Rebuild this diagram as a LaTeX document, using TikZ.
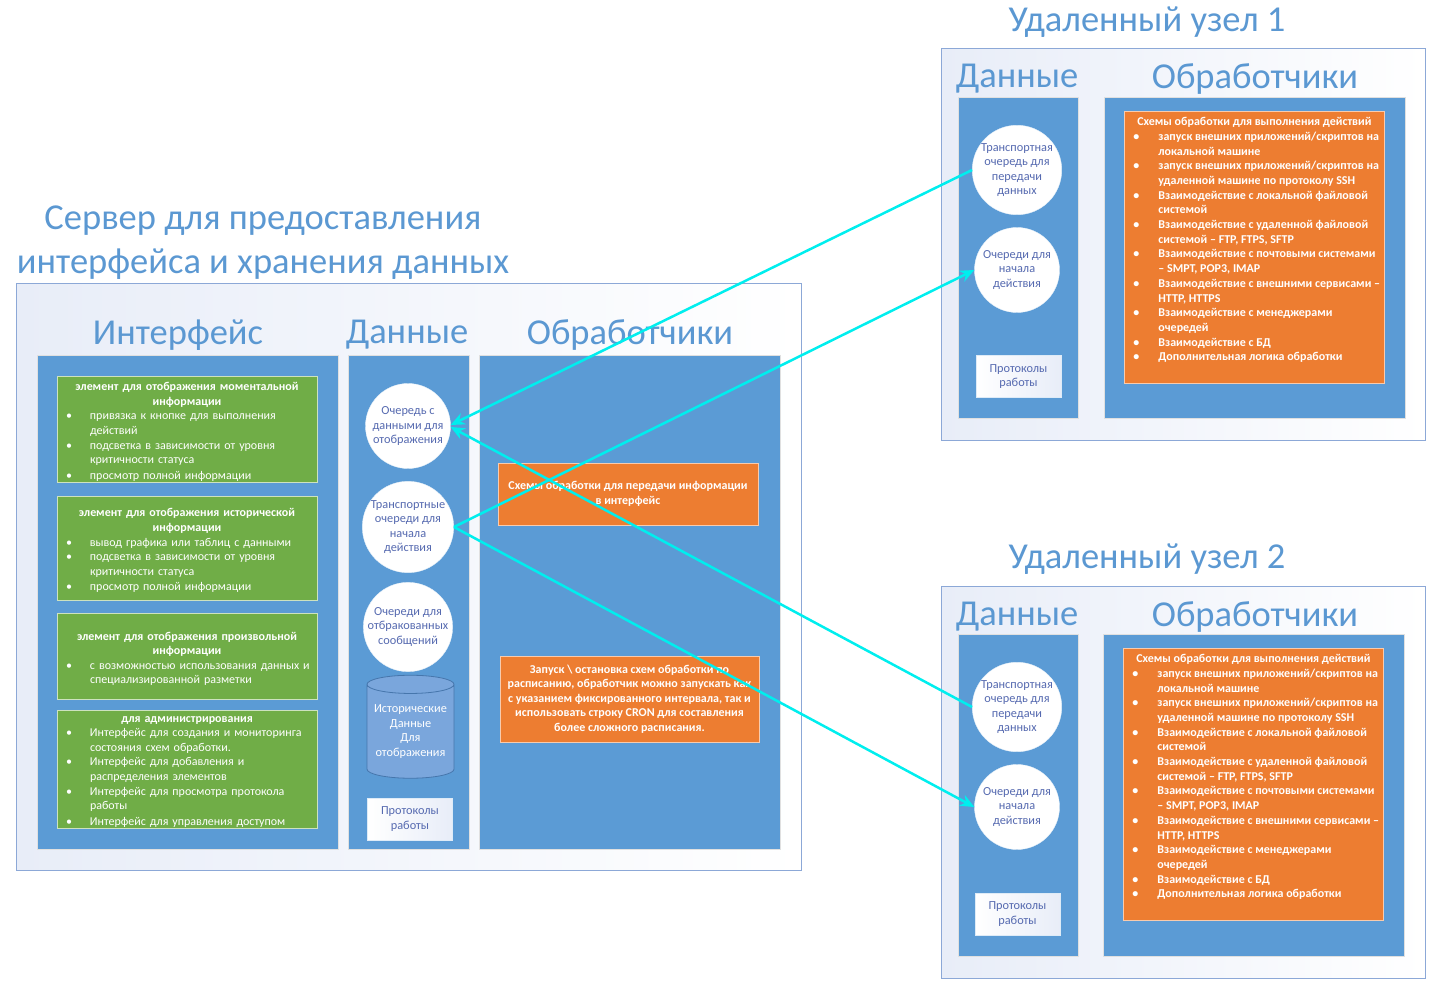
\documentclass[tikz,border=0pt]{standalone}
\usepackage{fontspec}
\setmainfont{Carlito}
\usepackage{tikz}
\usetikzlibrary{arrows.meta}
\usetikzlibrary{shapes.geometric}
\usetikzlibrary{positioning}
\definecolor{colblue}{RGB}{91,155,213}
\definecolor{ttlblue}{RGB}{91,152,210}
\definecolor{grn}{RGB}{112,173,71}
\definecolor{orng}{RGB}{237,125,49}
\definecolor{qtext}{RGB}{86,106,176}
\definecolor{frame}{RGB}{140,168,215}
\definecolor{bgl}{RGB}{232,237,248}
\definecolor{lnk}{RGB}{0,238,238}
\definecolor{cylfill}{RGB}{122,166,220}
\definecolor{cylline}{RGB}{70,118,172}
\newcommand\bul[1]{\par\hangindent=30pt\hangafter=1\noindent\makebox[30pt][l]{\hspace{5pt}\textbullet}#1}
\newcommand\gbul[1]{\par\lineskip=0pt\noindent\makebox[31pt][l]{\hspace{7pt}\textbullet}\parbox[t]{225pt}{\strut#1\strut}}
\newcommand\gend{\par\kern-8pt}
\newcommand\schemetext{\parbox[c][264pt][t]{252pt}{\vspace*{2pt}%
{\centering Схемы обработки для выполнения действий\par}
\bul{запуск внешних приложений/скриптов на\newline локальной машине}
\bul{запуск внешних приложений/скриптов на\newline удаленной машине по протоколу SSH}
\bul{Взаимодействие с локальной файловой\newline системой}
\bul{Взаимодействие с удаленной файловой\newline системой – FTP, FTPS, SFTP}
\bul{Взаимодействие с почтовыми системами\newline – SMPT, POP3, IMAP}
\bul{Взаимодействие с внешними сервисами –\newline HTTP, HTTPS}
\bul{Взаимодействие с менеджерами\newline очередей}
\bul{Взаимодействие с БД}
\bul{Дополнительная логика обработки}}}
\tikzstyle{title}=[text=ttlblue,align=center,font=\fontsize{36.5}{44}\selectfont]
\tikzstyle{heading}=[text=ttlblue,font=\fontsize{36.5}{42}\selectfont]
\tikzstyle{panel}=[draw=frame,line width=0.8pt,left color=bgl,right color=white,anchor=north west]
\tikzstyle{colbox}=[fill=colblue,draw=black!12,line width=0.8pt,anchor=north west]
\tikzstyle{gbox}=[fill=grn,draw=white!65!grn,line width=0.8pt,text=white,text width=256pt,inner xsep=2pt,inner ysep=0pt,minimum width=260pt,font=\fontsize{12}{14.6}\selectfont,execute at end node=\gend]
\tikzstyle{obox}=[fill=orng,draw=white!60!orng,line width=0.8pt,text=white,align=center,inner sep=3pt,font=\bfseries\fontsize{12}{14.6}\selectfont]
\tikzstyle{schbox}=[fill=orng,draw=white!60!orng,line width=0.8pt,text=white,inner sep=4pt,anchor=north west,font=\bfseries\fontsize{12}{14.7}\selectfont]
\tikzstyle{queue}=[circle,fill=white,draw=white!85!colblue,minimum size=85pt,inner sep=0pt,align=center,text=qtext,font=\fontsize{12.3}{14.6}\selectfont]
\tikzstyle{store}=[cylinder,shape border rotate=90,aspect=0.25,fill=cylfill,draw=cylline,line width=0.8pt,minimum width=87pt,minimum height=103pt,inner sep=0pt,align=center,text=white,font=\fontsize{12.3}{14.6}\selectfont]
\tikzstyle{logbox}=[left color=white,right color=bgl,draw=white!80!colblue,minimum width=85pt,minimum height=42pt,inner sep=0pt,align=center,text=qtext,font=\fontsize{12.3}{14.6}\selectfont]
\tikzstyle{link}=[draw=lnk,line width=2.5pt,-{Stealth[length=14pt,width=12pt]}]
\begin{document}
\begin{tikzpicture}[x=1pt,y=-1pt]
\useasboundingbox (0,0) rectangle (1432,984);
\node[title] (srvtitle) at (263,243) {Сервер для предоставления\\интерфейса и хранения данных};
\node[panel,minimum width=785pt,minimum height=587pt] (srv) at (16,283) {};
\node[heading] (hifc) at (178,335) {Интерфейс};
\node[heading] (hdat) at (407,335) {Данные};
\node[heading] (hprc) at (630,335) {Обработчики};
\node[colbox,minimum width=301pt,minimum height=494pt] (ifc) at (37,355) {};
\node[colbox,minimum width=121pt,minimum height=494pt] (dat) at (348,355) {};
\node[colbox,minimum width=301pt,minimum height=494pt] (prc) at (479,355) {};
\node[gbox,minimum height=106pt] (g1) at (187,429) {{\centering\bfseries элемент для отображения моментальной\\информации\par}
\gbul{привязка к кнопке для выполнения\newline действий}
\gbul{подсветка в зависимости от уровня\newline критичности статуса}
\gbul{просмотр полной информации}};
\node[gbox,minimum height=104pt] (g2) at (187,548) {{\centering\bfseries элемент для отображения исторической\\информации\par}
\gbul{вывод графика или таблиц с данными}
\gbul{подсветка в зависимости от уровня\newline критичности статуса}
\gbul{просмотр полной информации}};
\node[gbox,minimum height=86pt] (g3) at (187,656) {{\centering\bfseries элемент для отображения произвольной\\информации\par}
\gbul{с возможностью использования данных и\newline специализированной разметки}};
\node[gbox,minimum height=118pt] (g4) at (187,769) {{\centering\bfseries для администрирования\par}
\gbul{Интерфейс для создания и мониторинга\newline состояния схем обработки.}
\gbul{Интерфейс для добавления и\newline распределения элементов}
\gbul{Интерфейс для просмотра протокола\newline работы}
\gbul{Интерфейс для управления доступом}};
\node[queue] (sq) at (408,426) {Очередь с\\данными для\\отображения};
\node[queue] (stq) at (408,527) {Транспортные\\очереди для\\начала\\действия};
\node[queue] (srq) at (408,627) {Очереди для\\отбракованных\\сообщений};
\node[store] (shist) at (410.5,731.5) {Исторические\\Данные\\Для\\отображения};
\node[logbox] (slog) at (410,819) {Протоколы\\работы};
\node[obox,minimum width=260pt,minimum height=62pt] (o1) at (628,494) {Схемы обработки для передачи информации\\в интерфейс};
\node[obox,minimum width=259pt,minimum height=86pt] (o2) at (629.5,699) {Запуск \textbackslash{} остановка схем обработки по\\расписанию, обработчик можно запускать как\\с указанием фиксированного интервала, так и\\использовать строку CRON для составления\\более сложного расписания.};
\node[title] (r1title) at (1147,22) {Удаленный узел 1};
\node[panel,minimum width=484pt,minimum height=392pt] (r1) at (941,48) {};
\node[heading] (r1hdat) at (1017,79) {Данные};
\node[heading] (r1hprc) at (1255,79) {Обработчики};
\node[colbox,minimum width=120pt,minimum height=321pt] (r1dat) at (958,97) {};
\node[colbox,minimum width=301pt,minimum height=321pt] (r1prc) at (1104,97) {};
\node[queue] (r1q1) at (1017,170) {Транспортная\\очередь для\\передачи\\данных};
\node[queue] (r1q2) at (1017,270) {Очереди для\\начала\\действия};
\node[logbox] (r1log) at (1018.5,376.5) {Протоколы\\работы};
\node[schbox] (r1sch) at (1124,111) {\schemetext};
\node[title] (r2title) at (1147,559) {Удаленный узел 2};
\node[panel,minimum width=484pt,minimum height=392pt] (r2) at (941,586) {};
\node[heading] (r2hdat) at (1017,617) {Данные};
\node[heading] (r2hprc) at (1255,617) {Обработчики};
\node[colbox,minimum width=120pt,minimum height=322pt] (r2dat) at (958,634) {};
\node[colbox,minimum width=301pt,minimum height=322pt] (r2prc) at (1103,634) {};
\node[queue] (r2q1) at (1017,707) {Транспортная\\очередь для\\передачи\\данных};
\node[queue] (r2q2) at (1017,807) {Очереди для\\начала\\действия};
\node[logbox] (r2log) at (1017.5,914) {Протоколы\\работы};
\node[schbox] (r2sch) at (1123,648) {\schemetext};
\draw[link] (r1q1.west) -- ([yshift=1pt]sq.east);
\draw[link] (stq.east) -- (r1q2.west);
\draw[link] (r2q1.west) -- ([yshift=-1pt]sq.east);
\draw[link] (stq.east) -- (r2q2.west);
\end{tikzpicture}
\end{document}
